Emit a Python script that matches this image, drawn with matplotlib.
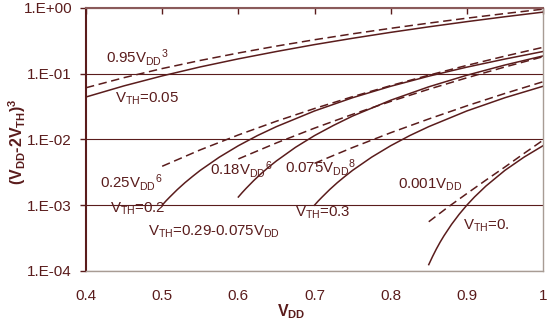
import matplotlib
matplotlib.use("Agg")
import matplotlib.pyplot as plt
from matplotlib.ticker import FixedLocator, FixedFormatter, NullLocator

plt.rcParams['font.family'] = ['Liberation Sans', 'DejaVu Sans']
plt.rcParams['mathtext.fontset'] = 'custom'
plt.rcParams['mathtext.rm'] = 'Liberation Sans'
plt.rcParams['mathtext.it'] = 'Liberation Sans:italic'
plt.rcParams['mathtext.bf'] = 'Liberation Sans:bold'

# ---------------- data ----------------
x_full = [0.40, 0.45, 0.50, 0.55, 0.60, 0.65, 0.70, 0.75, 0.80, 0.85, 0.90, 0.95, 1.00]
dash_095 = [0.0608, 0.0866, 0.119, 0.158, 0.205, 0.261, 0.326, 0.401, 0.486, 0.583, 0.693, 0.815, 0.95]
solid_005 = [0.0440, 0.0650, 0.0920, 0.126, 0.167, 0.216, 0.275, 0.343, 0.422, 0.512, 0.614, 0.729, 0.857]

x_d025 = [0.50, 0.55, 0.60, 0.65, 0.70, 0.75, 0.80, 0.85, 0.90, 0.95, 1.00]
dash_025 = [0.0039, 0.00692, 0.01166, 0.01886, 0.0294, 0.0445, 0.0655, 0.0943, 0.1329, 0.1838, 0.25]

x_s02 = [0.500, 0.505, 0.510, 0.520, 0.530, 0.540, 0.550, 0.575, 0.600, 0.625, 0.650,
         0.700, 0.750, 0.800, 0.850, 0.900, 0.950, 1.000]
solid_02 = [0.001, 0.00116, 0.00133, 0.00173, 0.0022, 0.00274, 0.00338, 0.00536, 0.008,
            0.0114, 0.0156, 0.027, 0.0429, 0.064, 0.0911, 0.125, 0.166, 0.216]

x_d018 = [0.60, 0.65, 0.70, 0.75, 0.80, 0.85, 0.90, 0.95, 1.00]
dash_018 = [0.00504, 0.00882, 0.0148, 0.0240, 0.0377, 0.0577, 0.0861, 0.1257, 0.18]

x_s029 = [0.600, 0.605, 0.610, 0.620, 0.630, 0.640, 0.650, 0.675, 0.700, 0.725, 0.750,
          0.800, 0.850, 0.900, 0.950, 1.000]
solid_029 = [0.00133, 0.00155, 0.00179, 0.00235, 0.00302, 0.0038, 0.0047, 0.00756, 0.0114,
             0.0163, 0.0226, 0.0393, 0.0628, 0.0942, 0.1346, 0.185]

x_d0075 = [0.70, 0.75, 0.80, 0.85, 0.90, 0.95, 1.00]
dash_0075 = [0.00432, 0.00751, 0.0126, 0.0204, 0.0323, 0.0498, 0.075]

x_s03 = [0.700, 0.705, 0.710, 0.720, 0.730, 0.740, 0.750, 0.775, 0.800, 0.825, 0.850,
         0.900, 0.950, 1.000]
solid_03 = [0.001, 0.00116, 0.00133, 0.00173, 0.0022, 0.00274, 0.00338, 0.00536, 0.008,
            0.0114, 0.0156, 0.027, 0.0429, 0.064]

x_d0001 = [0.85, 0.875, 0.90, 0.925, 0.95, 0.975, 1.00]
dash_0001 = [0.00056, 0.00093, 0.0015, 0.0024, 0.0038, 0.0061, 0.0097]

x_s04 = [0.850, 0.855, 0.860, 0.865, 0.870, 0.880, 0.890, 0.900, 0.910, 0.925, 0.950,
         0.975, 1.000]
solid_04 = [0.000125, 0.000166, 0.000216, 0.000275, 0.000343, 0.000512, 0.000729, 0.001,
            0.00133, 0.00195, 0.00338, 0.00536, 0.008]

x_ticks = [0.4, 0.5, 0.6, 0.7, 0.8, 0.9, 1.0]
x_ticklabels = ['0.4', '0.5', '0.6', '0.7', '0.8', '0.9', '1']
y_ticks = [1e-4, 1e-3, 1e-2, 1e-1, 1e0]
y_ticklabels = ['1.E-04', '1.E-03', '1.E-02', '1.E-01', '1.E+00']

# ---------------- drawing ----------------
BROWN = '#5a1c1c'
GRAY = '#a89c94'
W, H = 553, 328

fig = plt.figure(figsize=(W / 100, H / 100), dpi=100)
ax = fig.add_axes([86 / W, 1 - 271 / H, (543 - 86) / W, (271 - 7.7) / H])

dash = (0, (5.5, 3.0))
lw = 1.1
for xs, ys in [(x_full, dash_095), (x_d025, dash_025), (x_d018, dash_018),
               (x_d0075, dash_0075), (x_d0001, dash_0001)]:
    ax.plot(xs, ys, color=BROWN, lw=lw, linestyle=dash)
for xs, ys in [(x_full, solid_005), (x_s02, solid_02), (x_s029, solid_029),
               (x_s03, solid_03), (x_s04, solid_04)]:
    ax.plot(xs, ys, color=BROWN, lw=lw)

ax.set_yscale('log')
ax.set_xlim(0.4, 1.0)
ax.set_ylim(1e-4, 1e0)

ax.xaxis.set_major_locator(FixedLocator(x_ticks))
ax.xaxis.set_major_formatter(FixedFormatter(x_ticklabels))
ax.xaxis.set_minor_locator(NullLocator())
ax.yaxis.set_major_locator(FixedLocator(y_ticks))
ax.yaxis.set_major_formatter(FixedFormatter(y_ticklabels))
ax.yaxis.set_minor_locator(NullLocator())

ax.tick_params(axis='x', bottom=False, top=True, labelbottom=True, labeltop=False,
               direction='in', length=4, width=1, color=BROWN, labelcolor=BROWN,
               labelsize=11, pad=13)
ax.tick_params(axis='y', left=True, right=False, direction='out', length=4, width=1,
               color=BROWN, labelcolor=BROWN, labelsize=11, pad=6)

ax.yaxis.grid(True, color=BROWN, lw=0.8)
ax.set_axisbelow(True)

ax.spines['left'].set_color(BROWN)
ax.spines['left'].set_linewidth(1.5)
ax.spines['top'].set_color('#8a5a5a')
ax.spines['top'].set_linewidth(1.5)
ax.spines['bottom'].set_color(GRAY)
ax.spines['bottom'].set_linewidth(1.0)
ax.spines['right'].set_color(GRAY)
ax.spines['right'].set_linewidth(1.0)


def ftext(px, py, s, **kw):
    fig.text(px / W, 1 - py / H, s, color=BROWN, fontsize=10.8,
             ha='left', va='baseline', **kw)


ftext(106, 63, r'0.95V$_\mathregular{DD}$$\mathregular{^{3}}$')
ftext(115, 103, r'V$_\mathregular{TH}$=0.05')
ftext(100, 188, r'0.25V$_\mathregular{DD}$$\mathregular{^{6}}$')
ftext(110, 213, r'V$_\mathregular{TH}$=0.2')
ftext(148, 236, r'V$_\mathregular{TH}$=0.29-0.075V$_\mathregular{DD}$')
ftext(210, 174.5, r'0.18V$_\mathregular{DD}$$\mathregular{^{6}}$')
ftext(285, 173, r'0.075V$_\mathregular{DD}$$\mathregular{^{8}}$')
ftext(398, 189, r'0.001V$_\mathregular{DD}$')
ftext(295, 216.5, r'V$_\mathregular{TH}$=0.3')
ftext(463, 230, r'V$_\mathregular{TH}$=0.')

fig.text(277 / W, 1 - 316 / H, r'V$_\mathbf{DD}$', color=BROWN, fontsize=11.5,
         fontweight='bold', ha='left', va='baseline')
fig.text(17 / W, 1 - 142 / H, r'(V$_\mathbf{DD}$-2V$_\mathbf{TH}$)$^\mathbf{3}$',
         color=BROWN, fontsize=11.5, fontweight='bold', rotation=90,
         ha='center', va='center')

fig.savefig('out.png', dpi=100)
